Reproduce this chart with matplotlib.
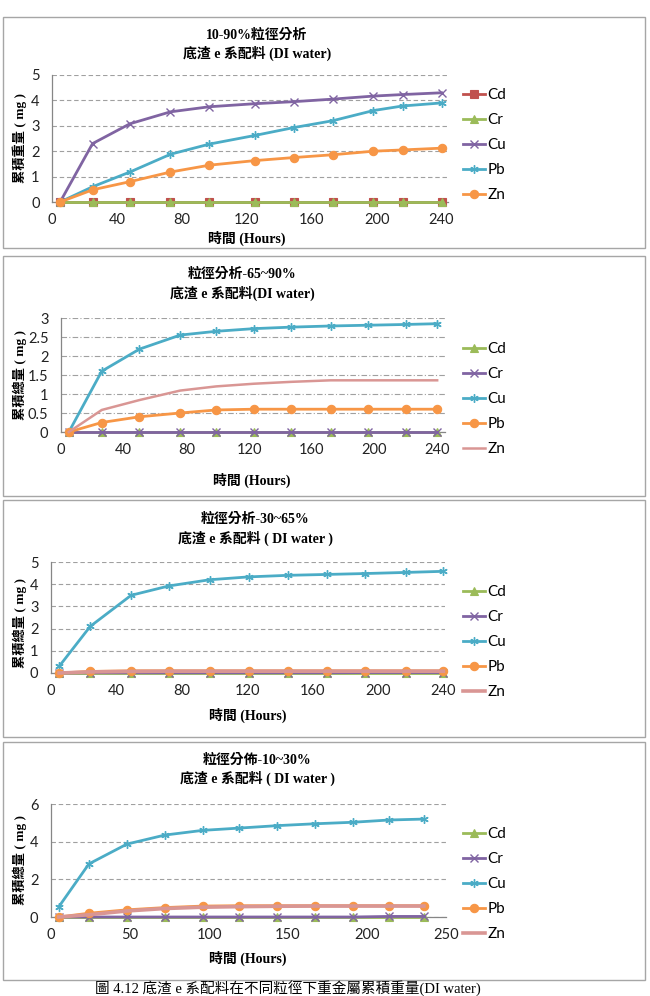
import matplotlib
matplotlib.use("Agg")
import matplotlib.pyplot as plt
from matplotlib.lines import Line2D
from matplotlib.patches import Rectangle

# ---------------- data ----------------
metals = ["Cd", "Cr", "Cu", "Pb", "Zn"]

hours1 = [5, 25, 48, 73, 97, 125, 149, 173, 198, 216, 240]
cd1 = [0, 0, 0, 0, 0, 0, 0, 0, 0, 0, 0]
cr1 = [0, 0, 0, 0, 0, 0, 0, 0, 0, 0, 0]
cu1 = [0, 2.3, 3.08, 3.55, 3.75, 3.87, 3.95, 4.05, 4.17, 4.23, 4.3]
pb1 = [0, 0.6, 1.18, 1.88, 2.28, 2.62, 2.93, 3.2, 3.6, 3.78, 3.9]
zn1 = [0, 0.48, 0.8, 1.18, 1.45, 1.63, 1.75, 1.86, 2.0, 2.05, 2.12]

hours2 = [5, 26, 50, 76, 99, 123, 147, 172, 196, 220, 240]
cd2 = [0, 0, 0, 0, 0, 0, 0, 0, 0, 0, 0]
cr2 = [0, 0, 0, 0, 0, 0, 0, 0, 0, 0, 0]
cu2 = [0, 1.6, 2.18, 2.55, 2.65, 2.72, 2.76, 2.79, 2.81, 2.83, 2.85]
pb2 = [0, 0.25, 0.4, 0.5, 0.58, 0.6, 0.6, 0.6, 0.6, 0.6, 0.6]
zn2 = [0, 0.58, 0.84, 1.09, 1.2, 1.27, 1.32, 1.36, 1.36, 1.36, 1.36]

hours3 = [5, 24, 49, 72, 97, 121, 145, 169, 192, 217, 240]
cd3 = [0, 0, 0, 0, 0, 0, 0, 0, 0, 0, 0]
cr3 = [0, 0.01, 0.01, 0.01, 0.01, 0.01, 0.01, 0.01, 0.02, 0.02, 0.02]
cu3 = [0.3, 2.1, 3.5, 3.92, 4.2, 4.33, 4.4, 4.44, 4.48, 4.53, 4.58]
pb3 = [0, 0.07, 0.1, 0.1, 0.1, 0.1, 0.1, 0.1, 0.1, 0.1, 0.1]
zn3 = [0, 0.05, 0.07, 0.08, 0.08, 0.08, 0.08, 0.08, 0.08, 0.08, 0.08]

hours4 = [5, 24, 48, 72, 96, 119, 143, 167, 191, 214, 236]
cd4 = [0, 0, 0, 0, 0, 0, 0, 0, 0, 0, 0]
cr4 = [0, 0, 0, 0, 0, 0, 0, 0, 0, 0.03, 0.03]
cu4 = [0.55, 2.82, 3.87, 4.35, 4.6, 4.72, 4.85, 4.95, 5.03, 5.15, 5.2]
pb4 = [0, 0.2, 0.38, 0.5, 0.58, 0.6, 0.6, 0.6, 0.6, 0.6, 0.6]
zn4 = [0, 0.12, 0.32, 0.45, 0.52, 0.55, 0.57, 0.58, 0.58, 0.58, 0.58]

titles1 = ["10-90%粒徑分析", "粒徑分析-65~90%", "粒徑分析-30~65%", "粒徑分佈-10~30%"]
titles2 = ["底渣 e 系配料 (DI water)", "底渣 e 系配料(DI water)",
           "底渣 e 系配料 ( DI water )", "底渣 e 系配料 ( DI water )"]
ylabels = ["累積重量 ( mg )", "累積總量 ( mg )", "累積總量 ( mg )", "累積總量 ( mg )"]
xlabel = "時間 (Hours)"
caption = "圖 4.12 底渣 e 系配料在不同粒徑下重金屬累積重量(DI water)"

# ---------------- styling ----------------
W, H = 650, 996
fig = plt.figure(figsize=(W / 100, H / 100), dpi=100)

CJK_SERIF = ["Liberation Serif", "Noto Sans CJK TC"]
TICKF = ["Lato", "DejaVu Sans"]

RED, GREEN, PURPLE, AQUA, ORANGE, PINK = "#C0504D", "#9BBB59", "#8064A2", "#4BACC6", "#F79646", "#D99694"
STAR = (6, 2, 0)

def px_rect(x0, y0, x1, y1):
    return [x0 / W, 1 - y1 / H, (x1 - x0) / W, (y1 - y0) / H]

panels = [
    dict(box=(3, 17, 645, 248), ax=(52, 75, 448, 202), xlim=244, xt=range(0, 241, 40),
         ylim=5, yt=[0, 1, 2, 3, 4, 5], grid=(0, (4, 2.5)),
         hours=hours1, series=[cd1, cr1, cu1, pb1, zn1],
         styles=[(RED, "s"), (GREEN, "^"), (PURPLE, "x"), (AQUA, STAR), (ORANGE, "o")],
         tx=257, ty=(35, 53), xly=238, xlx=247, yly=138, leg=(463, 97)),
    dict(box=(3, 256, 645, 496), ax=(61, 318, 445, 432), xlim=245, xt=range(0, 241, 40),
         ylim=3, yt=[0, 0.5, 1, 1.5, 2, 2.5, 3], grid=(0, (5, 2, 1, 2)),
         hours=hours2, series=[cd2, cr2, cu2, pb2, zn2],
         styles=[(GREEN, "^"), (PURPLE, "x"), (AQUA, STAR), (ORANGE, "o"), (PINK, None)],
         tx=242, ty=(274, 293), xly=480, xlx=252, yly=375, leg=(463, 351)),
    dict(box=(3, 500, 645, 737), ax=(51, 562, 445, 673), xlim=241, xt=range(0, 241, 40),
         ylim=5, yt=[0, 1, 2, 3, 4, 5], grid=(0, (4, 2.5)),
         hours=hours3, series=[cd3, cr3, cu3, pb3, zn3],
         styles=[(GREEN, "^"), (PURPLE, "x"), (AQUA, STAR), (ORANGE, "o"), (PINK, None)],
         tx=255, ty=(519, 538), xly=715, xlx=248, yly=623, leg=(463, 594)),
    dict(box=(3, 742, 645, 980), ax=(51, 804, 446, 917), xlim=250, xt=range(0, 251, 50),
         ylim=6, yt=[0, 2, 4, 6], grid=(0, (4, 2.5)),
         hours=hours4, series=[cd4, cr4, cu4, pb4, zn4],
         styles=[(GREEN, "^"), (PURPLE, "x"), (AQUA, STAR), (ORANGE, "o"), (PINK, None)],
         tx=257, ty=(760, 778), xly=958, xlx=248, yly=860, leg=(463, 836)),
]

for i, p in enumerate(panels):
    bx0, by0, bx1, by1 = p["box"]
    fig.patches.append(Rectangle((bx0 / W, 1 - by1 / H), (bx1 - bx0) / W, (by1 - by0) / H,
                                 transform=fig.transFigure, fill=False,
                                 edgecolor="#A6A6A6", linewidth=1.0))
    ax = fig.add_axes(px_rect(*p["ax"]))
    ax.set_xlim(0, p["xlim"])
    ax.set_ylim(0, p["ylim"])
    ax.set_xticks(list(p["xt"]))
    ax.set_yticks(p["yt"])
    ax.set_yticklabels([("%g" % v) for v in p["yt"]])
    for s in ["top", "right"]:
        ax.spines[s].set_visible(False)
    for s in ["left", "bottom"]:
        ax.spines[s].set_color("#868686")
        ax.spines[s].set_linewidth(0.9)
    ax.tick_params(axis="x", length=0, pad=8, labelsize=10.5, colors="#222222")
    ax.tick_params(axis="y", length=0, pad=9, labelsize=10.5, colors="#222222")
    for lab in ax.get_xticklabels() + ax.get_yticklabels():
        lab.set_fontfamily(TICKF)
    ax.set_axisbelow(True)
    ax.grid(axis="y", color="#A0A0A0", linewidth=0.8, linestyle=p["grid"])
    ax.set_facecolor("none")

    handles = []
    for name, ys, (col, mk) in zip(metals, p["series"], p["styles"]):
        if mk is None:
            lw = 1.8 if i == 1 else 2.6
        else:
            lw = 2.0
        kw = dict(color=col, linewidth=lw, marker=mk, markersize=6,
                  markeredgewidth=1.0 if mk in ("x", STAR) else 0.8,
                  markeredgecolor=col, markerfacecolor=col, clip_on=False, zorder=3)
        ax.plot(p["hours"], ys, **kw)
        handles.append(Line2D([], [], **{k: v for k, v in kw.items() if k not in ("clip_on", "zorder")}))

    lx, ly = p["leg"]
    leg = fig.legend(handles, metals, loc="upper left",
                     bbox_to_anchor=(lx / W, 1 - (ly - 9) / H), bbox_transform=fig.transFigure,
                     frameon=False, handlelength=1.45, handletextpad=0.15,
                     labelspacing=0.72, borderpad=0, borderaxespad=0,
                     prop=dict(family=TICKF, size=11))

    fig.text(p["tx"] / W, 1 - p["ty"][0] / H, titles1[i], ha="center", va="center",
             family=CJK_SERIF, fontsize=10, fontweight="bold")
    fig.text(p["tx"] / W, 1 - p["ty"][1] / H, titles2[i], ha="center", va="center",
             family=CJK_SERIF, fontsize=10, fontweight="bold")
    fig.text(p["xlx"] / W, 1 - p["xly"] / H, xlabel, ha="center", va="center",
             family=CJK_SERIF, fontsize=10, fontweight="bold")
    fig.text(20 / W, 1 - p["yly"] / H, ylabels[i], ha="center", va="center", rotation=90,
             family=CJK_SERIF, fontsize=9.5, fontweight="bold")

fig.text(288 / W, 1 - 988 / H, caption, ha="center", va="center",
         family=CJK_SERIF, fontsize=10.5)

fig.savefig("out.png", dpi=100)
